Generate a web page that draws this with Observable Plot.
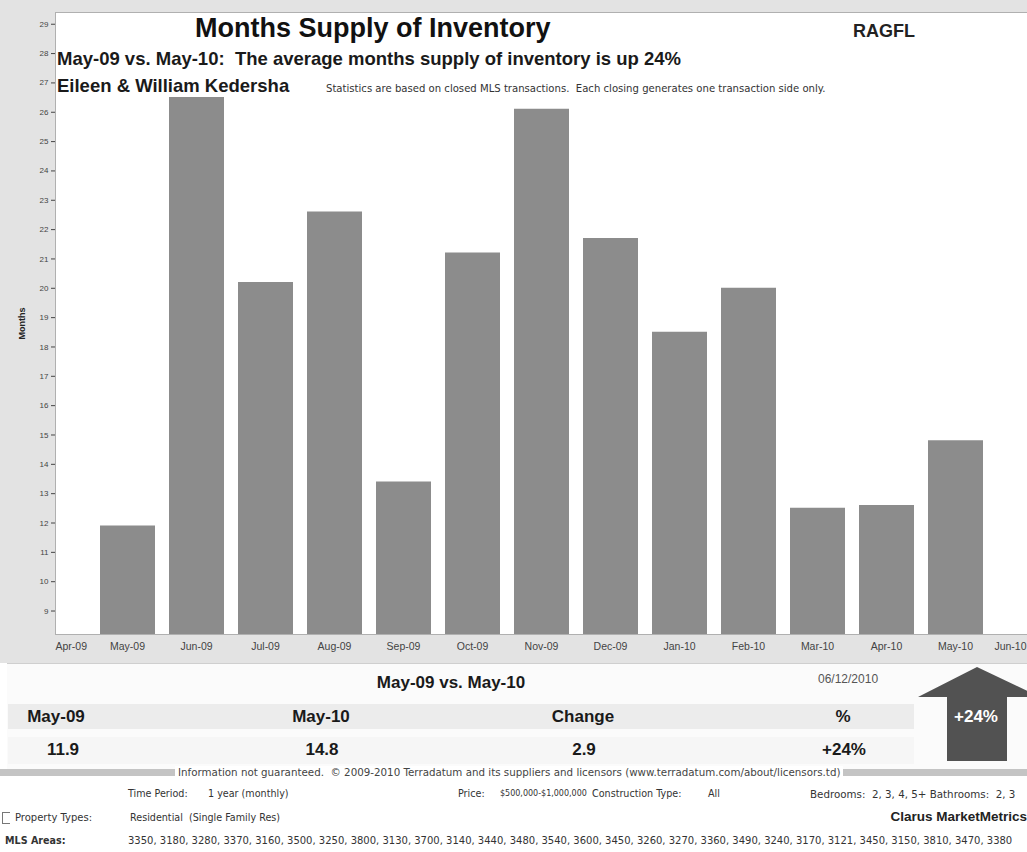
<!DOCTYPE html>
<html><head><meta charset="utf-8">
<script src="https://cdn.jsdelivr.net/npm/d3@7"></script>
<script src="https://cdn.jsdelivr.net/npm/@observablehq/plot@0.6"></script>
<style>
html,body{margin:0;padding:0;background:#fff;}
#wrap{position:relative;width:1027px;height:852px;overflow:hidden;background:#fff;font-family:"Liberation Sans",Arial,sans-serif;color:#222;}
#chart{position:absolute;left:0;top:0;width:1027px;height:663px;background:#e3e3e3;}
#chart svg{display:block;}
.abs{position:absolute;white-space:nowrap;}
.title{left:195px;top:13px;font-size:27px;font-weight:bold;color:#111;}
.sub{left:57px;font-size:18.5px;font-weight:bold;color:#1a1a1a;}
.note{left:326px;top:83px;font-size:10.1px;color:#333;font-family:"DejaVu Sans",sans-serif;}
.ragfl{left:853px;top:21px;font-size:18px;font-weight:bold;color:#222;}
#panel{position:absolute;left:7px;top:663px;width:1030px;height:106px;background:#fbfbfb;border-top:1px solid #cfcfcf;}
.band{position:absolute;left:8px;width:906px;height:25px;}
.narrow{font-family:"Liberation Sans Narrow","Arial Narrow",sans-serif;font-stretch:condensed;}
.cen{transform:translateX(-50%);}
.hdr{font-size:17px;font-weight:bold;color:#1a1a1a;}
.foot{font-size:9.6px;color:#333;font-family:"DejaVu Sans",sans-serif;}
</style>
</head><body>
<div id="wrap">
  <div id="chart"></div>
  <div class="abs title">Months Supply of Inventory</div>
  <div class="abs ragfl">RAGFL</div>
  <div class="abs sub" style="top:48px">May-09 vs. May-10:&nbsp; The average months supply of inventory is up 24%</div>
  <div class="abs sub" style="top:75px">Eileen &amp; William Kedersha</div>
  <div class="abs note">Statistics are based on closed MLS transactions.&nbsp; Each closing generates one transaction side only.</div>
  <div id="panel"></div>
  <div id="table"></div>
  <div id="footer"></div>
</div>
<script>
// ---- data ----
const months = ["Apr-09","May-09","Jun-09","Jul-09","Aug-09","Sep-09","Oct-09","Nov-09","Dec-09","Jan-10","Feb-10","Mar-10","Apr-10","May-10","Jun-10"];
const barMonths = ["May-09","Jun-09","Jul-09","Aug-09","Sep-09","Oct-09","Nov-09","Dec-09","Jan-10","Feb-10","Mar-10","Apr-10","May-10"];
const supply = [11.9, 26.5, 20.2, 22.6, 13.4, 21.2, 26.1, 21.7, 18.5, 20.0, 12.5, 12.6, 14.8];
const yTicks = [9,10,11,12,13,14,15,16,17,18,19,20,21,22,23,24,25,26,27,28,29];
const yDomain = [8.2, 29.4];
const summaryHeaders = ["May-09","May-10","Change","%"];
const summaryValues = ["11.9","14.8","2.9","+24%"];
const changeLabel = "+24%";

const data = barMonths.map((m, i) => ({month: m, value: supply[i]}));

const chart = Plot.plot({
  width: 1027,
  height: 660,
  marginLeft: 55,
  marginTop: 12,
  marginRight: 0,
  marginBottom: 26,
  style: {background: "transparent", fontFamily: "'Liberation Sans', Arial, sans-serif"},
  x: {type: "point", domain: months, padding: 0, insetLeft: 3, insetRight: 3},
  y: {domain: yDomain},
  marks: [
    Plot.frame({fill: "white", stroke: "#b0b0b0"}),
    Plot.ruleX(data, {x: "month", y1: yDomain[0], y2: "value", stroke: "#8c8c8c", strokeWidth: 55}),
    Plot.axisY({ticks: yTicks, tickSize: 4, tickPadding: 3, fontSize: 8, color: "#444", label: null}),
    Plot.axisX({ticks: barMonths, tickSize: 0, tickPadding: 8, fontSize: 10.5, color: "#444", label: null}),
    Plot.axisX({ticks: ["Apr-09"], tickSize: 0, tickPadding: 8, fontSize: 10.5, color: "#444", label: null, textAnchor: "start", dx: -3}),
    Plot.axisX({ticks: ["Jun-10"], tickSize: 0, tickPadding: 8, fontSize: 10.5, color: "#444", label: null, textAnchor: "end", dx: 2}),
    Plot.text(["Months"], {frameAnchor: "left", rotate: -90, dx: -33, textAnchor: "middle", fontSize: 9, fontWeight: "bold", fill: "#222"})
  ]
});
document.getElementById("chart").appendChild(chart);

// ---- summary table ----
const tbl = document.getElementById("table");
const xs = [56, 321, 583, 843];
let html = "";
html += `<div class="band" style="top:704px;background:#ececec"></div>`;
html += `<div class="band" style="top:737px;background:#f6f6f6;height:27px"></div>`;
html += `<div class="abs narrow hdr cen" style="left:451px;top:673px">${summaryHeaders[0]} vs. ${summaryHeaders[1]}</div>`;
html += `<div class="abs narrow" style="left:818px;top:672px;font-size:12px;color:#555">06/12/2010</div>`;
summaryHeaders.forEach((h, i) => {
  html += `<div class="abs narrow hdr cen" style="left:${xs[i]}px;top:707px">${h}</div>`;
});
const vx = [63, 322, 584, 844];
summaryValues.forEach((v, i) => {
  html += `<div class="abs narrow hdr cen" style="left:${vx[i]}px;top:740px">${v}</div>`;
});
html += `<svg class="abs" style="left:900px;top:660px" width="127" height="110">
  <polygon points="18,37 77,7 140,37 107,37 107,101 47,101 47,37" fill="#525252"/>
  <text x="76" y="62" text-anchor="middle" font-family="'Liberation Sans Narrow','Arial Narrow',sans-serif" font-weight="bold" font-size="17" fill="#fff">${changeLabel}</text>
</svg>`;
tbl.innerHTML = html;

// ---- footer ----
const foot = document.getElementById("footer");
foot.innerHTML = `
<div class="abs" style="left:0;top:769px;width:1027px;height:7px;background:#c4c4c4"></div>
<div class="abs foot" style="left:175px;top:766px;background:#fff;padding:0 3px;color:#444;font-size:10.3px">Information not guaranteed.&nbsp; © 2009-2010 Terradatum and its suppliers and licensors (www.terradatum.com/about/licensors.td)</div>
<div class="abs foot" style="left:128px;top:788px">Time Period:</div>
<div class="abs foot" style="left:208px;top:788px">1 year (monthly)</div>
<div class="abs foot" style="left:458px;top:788px">Price:</div>
<div class="abs foot" style="left:500px;top:789px;font-size:8px">$500,000-$1,000,000</div>
<div class="abs foot" style="left:592px;top:788px">Construction Type:</div>
<div class="abs foot" style="left:708px;top:788px">All</div>
<div class="abs foot" style="left:810px;top:788px;font-size:10.3px">Bedrooms:&nbsp; 2, 3, 4, 5+ Bathrooms:&nbsp; 2, 3</div>
<div class="abs" style="left:2px;top:812px;width:7px;height:10px;border:1px solid #777;border-right:none;background:#fff"></div>
<div class="abs foot" style="left:15px;top:812px;font-size:10px">Property Types:</div>
<div class="abs foot" style="left:130px;top:812px">Residential&nbsp; (Single Family Res)</div>
<div class="abs" style="right:0;top:809px;font-size:13.5px;font-weight:bold;color:#222">Clarus MarketMetrics</div>
<div class="abs foot" style="left:5px;top:835px;font-weight:bold">MLS Areas:</div>
<div class="abs foot" style="left:128px;top:835px;font-size:10px">3350, 3180, 3280, 3370, 3160, 3500, 3250, 3800, 3130, 3700, 3140, 3440, 3480, 3540, 3600, 3450, 3260, 3270, 3360, 3490, 3240, 3170, 3121, 3450, 3150, 3810, 3470, 3380</div>
`;
</script>
</body></html>
